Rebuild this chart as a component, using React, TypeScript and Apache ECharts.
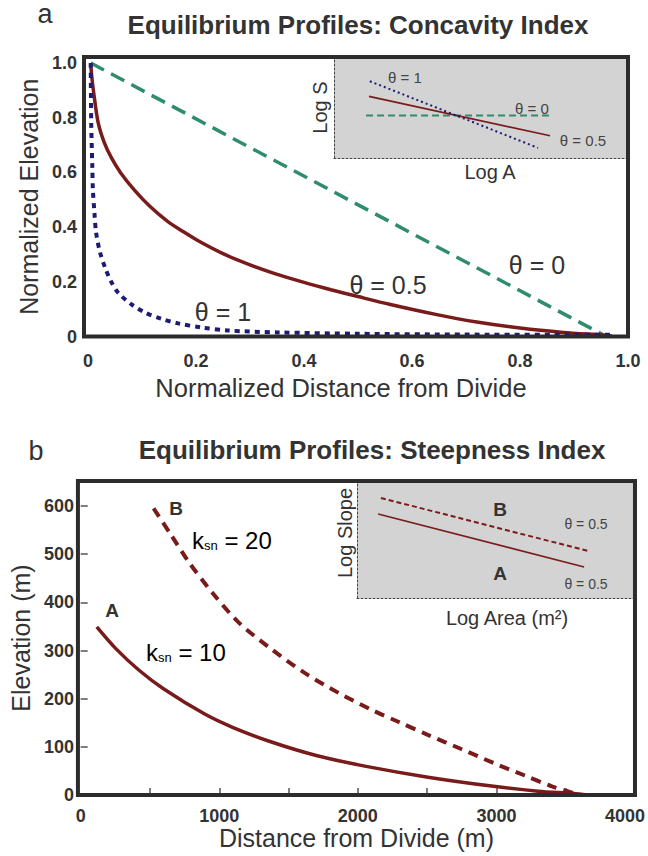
import React, { useEffect, useRef } from "react";
import * as echarts from "echarts";

// ---------- Panel a: normalized profiles ----------
const DIST_TICKS = [0, 0.2, 0.4, 0.6, 0.8, 1.0];
const ELEV_TICKS = [0, 0.2, 0.4, 0.6, 0.8, 1.0];

const THETA0 = [
  [0.005, 1.0],
  [0.96, 0.0],
];
const THETA05 = [
  [0.005, 1.0], [0.007, 0.95], [0.01, 0.9], [0.0185, 0.785], [0.03, 0.71],
  [0.043, 0.655], [0.06, 0.6], [0.086, 0.535], [0.115, 0.475], [0.148, 0.42],
  [0.175, 0.385], [0.204, 0.35], [0.253, 0.3], [0.3, 0.262], [0.346, 0.23],
  [0.4, 0.198], [0.45, 0.171], [0.5, 0.146], [0.56, 0.117], [0.646, 0.08],
  [0.72, 0.053], [0.8, 0.031], [0.88, 0.015], [0.954, 0.005], [0.97, 0.002],
];
const THETA1 = [
  [0.005, 1.0], [0.006, 0.78], [0.008, 0.62], [0.009, 0.54], [0.012, 0.45],
  [0.015, 0.38], [0.022, 0.31], [0.032, 0.25], [0.043, 0.2], [0.056, 0.16],
  [0.08, 0.118], [0.105, 0.088], [0.135, 0.065], [0.167, 0.048], [0.21, 0.033],
  [0.259, 0.022], [0.352, 0.015], [0.5, 0.01], [0.7, 0.007], [0.97, 0.006],
];

// inset a (log A vs log S, arbitrary units)
const INSET_A_THETA1 = [[1.22, 7.6], [6.94, 1.0]];
const INSET_A_THETA05 = [[1.19, 6.1], [7.35, 2.2]];
const INSET_A_THETA0 = [[1.09, 4.2], [7.31, 4.2]];

// ---------- Panel b: dimensional profiles ----------
const DIST_M_TICKS = [0, 1000, 2000, 3000, 4000];
const DIST_M_MINOR = [500, 1000, 1500, 2000, 2500, 3000, 3500];
const ELEV_M_TICKS = [0, 100, 200, 300, 400, 500, 600];

const PROFILE_A = [
  [116, 349], [250, 305], [421, 259], [600, 220], [895, 168], [1100, 140],
  [1377, 110], [1700, 82], [2050, 60], [2506, 37], [2980, 18], [3300, 8],
  [3555, 3], [3660, 0],
];
const PROFILE_B = [
  [526, 595], [650, 541], [782, 483], [950, 420], [1141, 358], [1380, 302],
  [1619, 253], [1861, 212], [2098, 177], [2300, 151], [2505, 125], [2750, 95],
  [2983, 66], [3200, 41], [3400, 18], [3557, 4], [3600, 1],
];

// inset b
const INSET_B_A = [[0.76, 7.18], [8.17, 2.65]];
const INSET_B_B = [[0.86, 8.55], [8.31, 4.02]];

const FONT = "Liberation Sans, Arial, Helvetica, sans-serif";
const TXT = "#333333";
const RED = "#7a1b1b";
const GREEN = "#2f8c6c";
const NAVY = "#1d1b74";
const GRAY = "#d3d3d3";
const FRAME = "#2c2c2c";

const fmt1 = (v: number) => (v === 0 ? "0" : v.toFixed(1));

export default function App() {
  const ref = useRef<HTMLDivElement>(null);
  useEffect(() => {
    if (!ref.current) return;
    const chart = echarts.init(ref.current, null, { renderer: "svg" });

    const tickLabel = {
      fontFamily: FONT,
      fontWeight: "bold" as const,
      fontSize: 18,
      color: TXT,
    };
    const nameStyle = { fontFamily: FONT, fontSize: 25, color: TXT };
    const insetName = { fontFamily: FONT, fontSize: 20, color: TXT };
    const dotted = { show: true, lineStyle: { color: "#444", width: 1, type: [2, 2] } };

    const ann = (text: string, x: number, y: number, size: number, bold = false, color = TXT) => ({
      type: "text",
      x,
      y,
      z: 20,
      style: {
        text,
        fill: color,
        font: `${bold ? "bold " : ""}${size}px ${FONT}`,
        align: "center",
        verticalAlign: "middle",
        textAlign: "center",
        textVerticalAlign: "middle",
      },
    });
    const ksn = (val: string, x: number, y: number) => ({
      type: "text",
      x,
      y,
      z: 20,
      style: {
        text: `{k|k}{s|sn}{n| = ${val}}`,
        align: "left",
        verticalAlign: "middle",
        textAlign: "left",
        textVerticalAlign: "middle",
        rich: {
          k: { fontFamily: FONT, fontSize: 24, lineHeight: 24, color: TXT, verticalAlign: "bottom" },
          s: { fontFamily: FONT, fontSize: 13, lineHeight: 3, color: TXT, verticalAlign: "bottom" },
          n: { fontFamily: FONT, fontSize: 24, lineHeight: 24, color: TXT, verticalAlign: "bottom" },
        },
      },
    });

    const smoothLine = { type: "line", symbol: "none", smooth: 0.3 };

    const option: any = {
      animation: false,
      backgroundColor: "#ffffff",
      grid: [
        { left: 84, top: 57, width: 544, height: 279.5, show: true, borderWidth: 4, borderColor: FRAME, backgroundColor: "transparent", z: 5 },
        { left: 334, top: 57, width: 294, height: 101, show: true, borderWidth: 0, backgroundColor: GRAY, z: 1 },
        { left: 75, top: 481, width: 560, height: 314, show: true, borderWidth: 4, borderColor: FRAME, backgroundColor: "transparent", z: 5 },
        { left: 357, top: 481, width: 278, height: 117, show: true, borderWidth: 0, backgroundColor: GRAY, z: 1 },
      ],
      xAxis: [
        {
          gridIndex: 0, type: "value", min: -0.0074, max: 1,
          axisLine: { show: false }, axisTick: { show: false }, splitLine: { show: false },
          axisLabel: { ...tickLabel, margin: 15, customValues: DIST_TICKS, formatter: fmt1 },
          name: "Normalized Distance from Divide", nameLocation: "middle", nameGap: 38,
          nameTextStyle: { ...nameStyle, fontSize: 25.5, padding: [0, 30, 0, 0] },
        },
        {
          gridIndex: 1, type: "value", min: 0, max: 10, z: 2,
          axisLine: dotted, axisTick: { show: false }, axisLabel: { show: false }, splitLine: { show: false },
          name: "Log A", nameLocation: "middle", nameGap: 4,
          nameTextStyle: { ...insetName, padding: [0, 0, 0, 18] },
        },
        {
          gridIndex: 2, type: "value", min: -20, max: 4000,
          axisLine: { show: false }, splitLine: { show: false },
          axisTick: { show: true, inside: true, length: 7, customValues: DIST_M_MINOR, lineStyle: { color: "#555", width: 1.5 } },
          axisLabel: {
            ...tickLabel, margin: 12, customValues: DIST_M_TICKS,
            formatter: (v: number) => (v === 4000 ? `{e|4000}` : String(v)),
            rich: { e: { ...tickLabel, padding: [0, 20, 0, 0] } },
          },
          name: "Distance from Divide (m)", nameLocation: "middle", nameGap: 30,
          nameTextStyle: nameStyle,
        },
        {
          gridIndex: 3, type: "value", min: 0, max: 10, z: 2,
          axisLine: dotted, axisTick: { show: false }, axisLabel: { show: false }, splitLine: { show: false },
          name: "Log Area (m²)", nameLocation: "middle", nameGap: 10,
          nameTextStyle: { ...insetName, padding: [0, 0, 0, 22] },
        },
      ],
      yAxis: [
        {
          gridIndex: 0, type: "value", min: 0, max: 1.022,
          axisLine: { show: false }, axisTick: { show: false }, splitLine: { show: false },
          axisLabel: { ...tickLabel, margin: 7, customValues: ELEV_TICKS, formatter: fmt1 },
          name: "Normalized Elevation", nameLocation: "middle", nameGap: 36, nameRotate: 90,
          nameTextStyle: nameStyle,
        },
        {
          gridIndex: 1, type: "value", min: 0, max: 10, z: 2,
          axisLine: dotted, axisTick: { show: false }, axisLabel: { show: false }, splitLine: { show: false },
          name: "Log S", nameLocation: "middle", nameGap: 4, nameRotate: 90,
          nameTextStyle: insetName,
        },
        {
          gridIndex: 2, type: "value", min: 0, max: 652,
          axisLine: { show: false }, splitLine: { show: false },
          axisTick: { show: true, inside: true, length: 7, customValues: ELEV_M_TICKS, lineStyle: { color: "#555", width: 1.5 } },
          axisLabel: { ...tickLabel, margin: 4, customValues: ELEV_M_TICKS },
          name: "Elevation (m)", nameLocation: "middle", nameGap: 39, nameRotate: 90,
          nameTextStyle: nameStyle,
        },
        {
          gridIndex: 3, type: "value", min: 0, max: 10, z: 2,
          axisLine: dotted, axisTick: { show: false }, axisLabel: { show: false }, splitLine: { show: false },
          name: "Log Slope", nameLocation: "middle", nameGap: 2, nameRotate: 90,
          nameTextStyle: { ...insetName, padding: [0, 0, 0, 13] },
        },
      ],
      series: [
        { type: "line", xAxisIndex: 0, yAxisIndex: 0, data: THETA0, symbol: "none", lineStyle: { color: GREEN, width: 3.5, type: [15, 8] } },
        { ...smoothLine, xAxisIndex: 0, yAxisIndex: 0, data: THETA05, lineStyle: { color: RED, width: 3.5 } },
        { ...smoothLine, xAxisIndex: 0, yAxisIndex: 0, data: THETA1, lineStyle: { color: NAVY, width: 4, type: [5, 5] } },
        { type: "line", xAxisIndex: 1, yAxisIndex: 1, data: INSET_A_THETA0, symbol: "none", lineStyle: { color: GREEN, width: 2, type: [7, 4] } },
        { type: "line", xAxisIndex: 1, yAxisIndex: 1, data: INSET_A_THETA05, symbol: "none", lineStyle: { color: RED, width: 1.6 } },
        { type: "line", xAxisIndex: 1, yAxisIndex: 1, data: INSET_A_THETA1, symbol: "none", lineStyle: { color: NAVY, width: 2, type: [2, 3] } },
        { ...smoothLine, xAxisIndex: 2, yAxisIndex: 2, data: PROFILE_A, lineStyle: { color: RED, width: 3.5 } },
        { ...smoothLine, xAxisIndex: 2, yAxisIndex: 2, data: PROFILE_B, lineStyle: { color: RED, width: 4, type: [10, 7] } },
        { type: "line", xAxisIndex: 3, yAxisIndex: 3, data: INSET_B_A, symbol: "none", lineStyle: { color: RED, width: 1.6 } },
        { type: "line", xAxisIndex: 3, yAxisIndex: 3, data: INSET_B_B, symbol: "none", lineStyle: { color: RED, width: 2, type: [5, 3] } },
      ],
      graphic: [
        ann("a", 45, 14, 27),
        ann("Equilibrium Profiles: Concavity Index", 358, 25, 26, true),
        ann("b", 36, 451, 27),
        ann("Equilibrium Profiles: Steepness Index", 372, 450, 26, true),
        ann("θ = 1", 223, 312, 25),
        ann("θ = 0.5", 388, 285, 25),
        ann("θ = 0", 537, 265, 25),
        ann("θ = 1", 405, 77, 15, false, "#444"),
        ann("θ = 0", 532, 108, 15, false, "#444"),
        ann("θ = 0.5", 583, 140, 15, false, "#444"),
        ann("B", 176, 508, 19, true),
        ann("A", 112, 610, 19, true),
        ksn("20", 192, 540),
        ksn("10", 146, 652),
        ann("B", 500, 509, 19, true),
        ann("A", 500, 573, 19, true),
        ann("θ = 0.5", 586, 524, 14, false, "#444"),
        ann("θ = 0.5", 586, 584, 14, false, "#444"),
      ],
    };
    chart.setOption(option);
    return () => chart.dispose();
  }, []);
  return (
    <div
      ref={ref}
      style={{ position: "fixed", left: 0, top: 0, width: 648, height: 856, background: "#fff" }}
    />
  );
}
